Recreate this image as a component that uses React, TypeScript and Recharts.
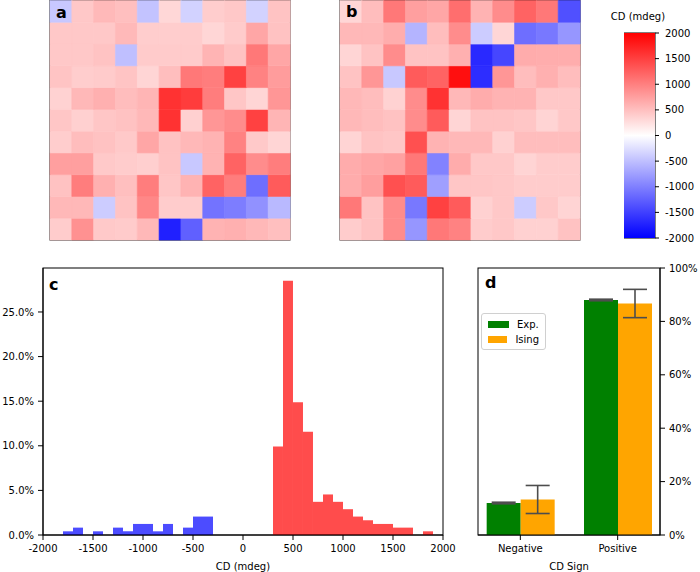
import React from 'react';
import * as R from 'recharts';
import { BarChart, Bar, XAxis, YAxis, Cell, ErrorBar, Legend } from 'recharts';

const FONT = '"DejaVu Sans", Verdana, sans-serif';

// ---- panel a / b heatmaps (rows top -> bottom, CD in mdeg) ----
const heatA: number[][] = [
  [-430, 430, 550, 500, -470, 310, -350, 390, 430, -350, 470],
  [430, 430, 430, 550, 390, 390, 400, 320, 410, 700, 480],
  [430, 430, 470, -500, 410, 410, 410, 590, 480, 1060, 700],
  [460, 390, 410, 460, 330, 510, 1060, 1020, 1490, 980, 780],
  [350, 560, 620, 520, 580, 1610, 1530, 1020, 450, 330, 820],
  [450, 370, 450, 480, 560, 1610, 370, 820, 900, 1490, 580],
  [390, 520, 480, 420, 700, 480, 560, 600, 980, 420, 330],
  [750, 750, 420, 400, 380, 470, -430, 600, 1220, 900, 1020],
  [480, 1020, 620, 500, 1020, 450, 600, 1220, 1020, -1140, 1290],
  [560, 560, -400, 470, 940, 400, 400, -1100, -1020, -860, -550],
  [400, 860, 420, 410, 560, -1750, -1250, 600, 620, 560, 500],
];
const heatB: number[][] = [
  [320, 520, 1060, 750, 700, 1140, 600, 900, 1220, 1060, -1370],
  [560, 560, 640, -590, 520, 900, -400, 320, -1140, -1060, -820],
  [330, 470, 900, 470, 470, 620, -1680, -1450, 650, 640, 640],
  [470, 820, -430, 1290, 1220, 1880, -1650, 820, 520, 620, 520],
  [560, 520, 350, 900, 1610, 560, 650, 600, 600, 430, 430],
  [560, 520, 480, 900, 1290, 330, 470, 470, 450, 340, 430],
  [340, 470, 450, 1370, 600, 560, 560, 360, 520, 520, 520],
  [650, 700, 740, 1060, -980, 650, 430, 430, 340, 400, 400],
  [650, 760, 1370, 1290, -750, 450, 450, 430, 400, 400, 400],
  [1060, 470, 900, -1060, 1490, 1290, 360, 430, -400, 430, 340],
  [400, 480, 900, -820, 1060, 980, 400, 430, 360, 360, 480],
];
const colorbarTicks = [-2000, -1500, -1000, -500, 0, 500, 1000, 1500, 2000];

// ---- panel c histogram ----
const histCenters = [
  -1950, -1850, -1750, -1650, -1550, -1450, -1350, -1250, -1150, -1050,
  -950, -850, -750, -650, -550, -450, -350, -250, -150, -50,
  50, 150, 250, 350, 450, 550, 650, 750, 850, 950,
  1050, 1150, 1250, 1350, 1450, 1550, 1650, 1750, 1850, 1950,
];
const histCounts = [
  0, 0, 1, 2, 0, 1, 0, 2, 1, 3,
  3, 1, 3, 0, 2, 5, 5, 0, 0, 0,
  0, 0, 0, 24, 69, 36, 28, 9, 11, 9,
  7, 5, 4, 3, 3, 2, 2, 0, 1, 0,
];
const histTotal = 242;
const histXTicks = [-2000, -1500, -1000, -500, 0, 500, 1000, 1500, 2000];
const histYTicks = [0, 5, 10, 15, 20, 25];

// ---- panel d ----
const signCategories = ['Negative', 'Positive'];
const expShare = [11.98, 88.02];
const expErr = [0.3, 0.3];
const isingShare = [13.3, 86.7];
const isingErr = [5.25, 5.3];
const signYTicks = [0, 20, 40, 60, 80, 100];

function bwr(v: number): string {
  let t = (v + 2000) / 4000;
  t = Math.max(0, Math.min(1, t));
  let r: number, g: number, b: number;
  if (t < 0.5) {
    r = 2 * t; g = 2 * t; b = 1;
  } else {
    r = 1; g = 2 * (1 - t); b = 2 * (1 - t);
  }
  const c = (x: number) => Math.round(x * 255);
  return `rgb(${c(r)},${c(g)},${c(b)})`;
}

const usePA: any = (R as any).usePlotArea;
function Frame() {
  const pa = usePA ? usePA() : null;
  if (!pa) return null;
  return (
    <rect x={pa.x} y={pa.y} width={pa.width} height={pa.height}
      fill="none" stroke="#000" strokeWidth={1} />
  );
}

const tickStyle = { fontSize: 10, fill: '#000', fontFamily: FONT };

function Heatmap({ grid, left }: { grid: number[][]; left: number }) {
  const nRows = grid.length;
  const nCols = grid[0].length;
  const data = Array.from({ length: nCols }, (_, c) => {
    const o: any = { col: c };
    for (let k = 0; k < nRows; k++) o['r' + k] = 1;
    return o;
  });
  return (
    <div style={{ position: 'absolute', left, top: -2 }}>
      <BarChart width={244} height={244} data={data}
        margin={{ top: 2.5, right: 2, bottom: 2, left: 2 }}
        barCategoryGap={0} barGap={0}>
        <XAxis dataKey="col" type="category" hide />
        <YAxis type="number" domain={[0, nRows]} hide />
        {Array.from({ length: nRows }, (_, k) => {
          const row = nRows - 1 - k;
          return (
            <Bar key={k} dataKey={'r' + k} stackId="s" isAnimationActive={false}>
              {grid[row].map((v, c) => (
                <Cell key={c} fill={bwr(v)} stroke={bwr(v)} strokeWidth={0.6} />
              ))}
            </Bar>
          );
        })}
        <Frame />
      </BarChart>
    </div>
  );
}

function Colorbar() {
  const data = [{ k: 'cb', span: [-2000, 2000] }];
  return (
    <div style={{ position: 'absolute', left: 624, top: 23 }}>
      <BarChart width={76} height={225} data={data}
        margin={{ top: 10, right: 0, bottom: 10, left: 0 }}
        barCategoryGap={0} barGap={0}>
        <defs>
          <linearGradient id="bwrGrad" x1="0" y1="0" x2="0" y2="1">
            <stop offset="0" stopColor="#ff0000" />
            <stop offset="0.5" stopColor="#ffffff" />
            <stop offset="1" stopColor="#0000ff" />
          </linearGradient>
        </defs>
        <XAxis dataKey="k" hide />
        <YAxis orientation="right" type="number" domain={[-2000, 2000]}
          ticks={colorbarTicks} interval={0} width={45} tickSize={4} tickMargin={6}
          tick={tickStyle} stroke="#000" axisLine={false} />
        <Bar dataKey="span" fill="url(#bwrGrad)" isAnimationActive={false} />
        <Frame />
      </BarChart>
    </div>
  );
}

function Histogram() {
  const data = histCenters.map((x, i) => ({ x, pct: (histCounts[i] / histTotal) * 100 }));
  return (
    <div style={{ position: 'absolute', left: 0, top: 250 }}>
      <BarChart width={470} height={322} data={data}
        margin={{ top: 18, right: 27, bottom: 0, left: 0 }}
        barCategoryGap={0} barGap={0}>
        <XAxis dataKey="x" type="number" domain={[-2000, 2000]} ticks={histXTicks}
          interval={0} allowDataOverflow height={37} tickSize={5} tickMargin={5}
          tick={tickStyle} stroke="#000"
          label={{ value: 'CD (mdeg)', position: 'insideBottom', offset: 2, style: { fontSize: 10, fill: '#000', fontFamily: FONT } }} />
        <YAxis type="number" domain={[0, 29.93]} ticks={histYTicks} interval={0}
          width={43} tickSize={5} tickMargin={4} tick={tickStyle} stroke="#000"
          tickFormatter={(v: number) => v.toFixed(1) + '%'} allowDataOverflow />
        <Bar dataKey="pct" barSize={9.99} isAnimationActive={false}>
          {data.map((d, i) => (
            <Cell key={i} fill={d.x < 0 ? '#0000ff' : '#ff0000'} fillOpacity={0.7} />
          ))}
        </Bar>
        <Frame />
      </BarChart>
    </div>
  );
}

function LegendBox({ payload }: any) {
  const items = payload || [];
  return (
    <div style={{
      border: '1px solid #d0d0d0', borderRadius: 3, background: 'rgba(255,255,255,0.8)',
      padding: '3px 6px 2px 6px', width: 51, fontFamily: FONT, fontSize: 10,
    }}>
      {items.map((it: any, i: number) => (
        <div key={i} style={{ display: 'flex', alignItems: 'center', height: 15 }}>
          <div style={{ width: 21, height: 7, background: it.color, marginRight: 8 }} />
          <span style={{ color: '#000' }}>{it.value}</span>
        </div>
      ))}
    </div>
  );
}

function SignBars() {
  const data = signCategories.map((c, i) => ({
    x: i, exp: expShare[i], expE: expErr[i], ising: isingShare[i], isingE: isingErr[i],
  }));
  return (
    <div style={{ position: 'absolute', left: 440, top: 250 }}>
      <BarChart width={260} height={322} data={data}
        margin={{ top: 18, right: 0, bottom: 0, left: 38 }}
        barGap={0}>
        <XAxis dataKey="x" type="number" domain={[-0.435, 1.435]} ticks={[0, 1]}
          interval={0} allowDataOverflow height={37} tickSize={5} tickMargin={5}
          tick={tickStyle} stroke="#000"
          tickFormatter={(v: number) => signCategories[v] ?? ''}
          label={{ value: 'CD Sign', position: 'insideBottom', offset: 2, style: { fontSize: 10, fill: '#000', fontFamily: FONT } }} />
        <YAxis orientation="right" type="number" domain={[0, 100]} ticks={signYTicks}
          interval={0} width={40} tickSize={5} tickMargin={4} tick={tickStyle}
          stroke="#000" tickFormatter={(v: number) => v + '%'} />
        <Legend layout="horizontal" verticalAlign="middle" align="center"
          wrapperStyle={{ left: 41, top: 63, width: 'auto', height: 'auto' }}
          content={(p: any) => <LegendBox payload={p.payload} />} />
        <Bar dataKey="exp" name="Exp." fill="#008000" barSize={34} isAnimationActive={false}>
          <ErrorBar dataKey="expE" direction="y" width={12} stroke="#4d4d4d" strokeWidth={1.6} />
        </Bar>
        <Bar dataKey="ising" name="Ising" fill="#ffa500" barSize={34} isAnimationActive={false}>
          <ErrorBar dataKey="isingE" direction="y" width={12} stroke="#4d4d4d" strokeWidth={1.6} />
        </Bar>
        <Frame />
      </BarChart>
    </div>
  );
}

const panelLabel = (text: string, left: number, top: number) => (
  <div style={{
    position: 'absolute', left, top, fontFamily: FONT, fontWeight: 'bold',
    fontSize: 16, lineHeight: '16px', color: '#000',
  }}>{text}</div>
);

export default function App() {
  return (
    <div style={{
      position: 'absolute', left: 0, top: 0, width: 700, height: 572,
      background: '#fff', overflow: 'hidden', fontFamily: FONT,
    }}>
      <Heatmap grid={heatA} left={48} />
      <Heatmap grid={heatB} left={338} />
      <Colorbar />
      <div style={{
        position: 'absolute', left: 600, top: 11, width: 76, textAlign: 'center',
        fontFamily: FONT, fontSize: 10, lineHeight: '12px', color: '#000',
      }}>CD (mdeg)</div>
      <Histogram />
      <SignBars />
      {panelLabel('a', 56, 5)}
      {panelLabel('b', 346, 4)}
      {panelLabel('c', 49, 277)}
      {panelLabel('d', 485, 275)}
    </div>
  );
}
